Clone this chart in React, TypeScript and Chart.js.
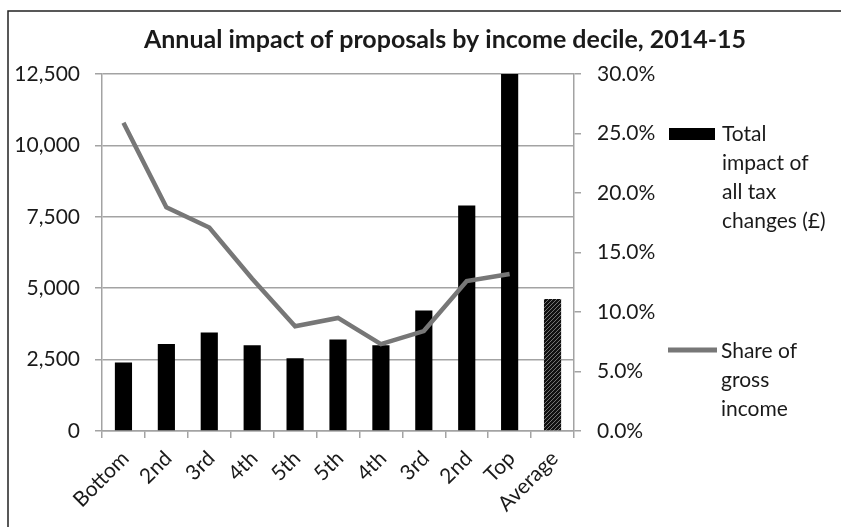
import React, { useEffect, useRef } from 'react';
import { Chart, registerables } from 'chart.js';

Chart.register(...registerables);

// ---------- data ----------
const categories = ['Bottom', '2nd', '3rd', '4th', '5th', '5th', '4th', '3rd', '2nd', 'Top', 'Average'];
const totalImpact = [2400, 3050, 3450, 3000, 2550, 3200, 3000, 4220, 7900, 12500, 4620];
const shareOfGrossIncome: (number | null)[] = [25.9, 18.8, 17.1, 12.8, 8.8, 9.5, 7.3, 8.4, 12.6, 13.2, null];
const leftTickValues = [0, 2500, 5000, 7500, 10000, 12500];
const rightTickValues = [0, 5, 10, 15, 20, 25, 30];
const titleText = 'Annual impact of proposals by income decile, 2014-15';
const barLegendLines = ['Total', 'impact of', 'all tax', 'changes (£)'];
const lineLegendLines = ['Share of', 'gross', 'income'];

const FONT = 'Lato, "Open Sans", sans-serif';
const TEXT = '#1a1a1a';
const GRID = '#a3a3a3';
const LINE = '#777777';

function makeHatch(): CanvasPattern | string {
  const c = document.createElement('canvas');
  c.width = 8;
  c.height = 8;
  const g = c.getContext('2d');
  if (!g) return '#222';
  g.fillStyle = '#111111';
  g.fillRect(0, 0, 8, 8);
  g.strokeStyle = 'rgba(220,220,220,0.55)';
  g.lineWidth = 0.9;
  g.beginPath();
  g.moveTo(0, 8); g.lineTo(8, 0);
  g.moveTo(-4, 8); g.lineTo(4, 0);
  g.moveTo(4, 8); g.lineTo(12, 0);
  g.stroke();
  const p = g.createPattern(c, 'repeat');
  return p || '#222';
}

const decorPlugin = {
  id: 'decor',
  afterDraw(chart: any) {
    const ctx: CanvasRenderingContext2D = chart.ctx;
    const a = chart.chartArea;
    ctx.save();
    // frame (left + top edges)
    ctx.strokeStyle = '#222';
    ctx.lineWidth = 1.5;
    ctx.beginPath();
    ctx.moveTo(8, chart.height);
    ctx.lineTo(8, 11);
    ctx.lineTo(chart.width, 11);
    ctx.stroke();

    // title
    ctx.fillStyle = TEXT;
    ctx.font = `bold 25px ${FONT}`;
    ctx.textAlign = 'center';
    ctx.textBaseline = 'alphabetic';
    ctx.fillText(titleText, 445, 48);

    // legend
    const lx = a.right + 95;
    ctx.font = `21px ${FONT}`;
    ctx.textAlign = 'left';
    ctx.fillStyle = '#000';
    ctx.fillRect(lx, 128, 46, 12);
    ctx.fillStyle = TEXT;
    barLegendLines.forEach((t, i) => ctx.fillText(t, lx + 53, 141 + i * 29));

    ctx.strokeStyle = LINE;
    ctx.lineWidth = 5;
    ctx.beginPath();
    ctx.moveTo(lx - 1, 350);
    ctx.lineTo(lx + 48, 350);
    ctx.stroke();
    lineLegendLines.forEach((t, i) => ctx.fillText(t, lx + 52, 358 + i * 29));
    ctx.restore();
  },
};

export default function App() {
  const ref = useRef<HTMLCanvasElement | null>(null);

  useEffect(() => {
    if (!ref.current) return;
    const hatch = makeHatch();
    const barColors = categories.map((c) => (c === 'Average' ? hatch : '#000000'));
    const tickFont = { family: FONT, size: 21 };

    const chart = new Chart(ref.current, {
      type: 'bar',
      data: {
        labels: categories,
        datasets: [
          {
            type: 'line',
            label: 'Share of gross income',
            data: shareOfGrossIncome,
            yAxisID: 'y1',
            borderColor: LINE,
            backgroundColor: LINE,
            borderWidth: 4.5,
            pointRadius: 0,
            tension: 0,
            spanGaps: false,
            order: 0,
          } as any,
          {
            type: 'bar',
            label: 'Total impact of all tax changes (£)',
            data: totalImpact,
            yAxisID: 'y',
            backgroundColor: barColors as any,
            borderWidth: 0,
            barPercentage: 0.4,
            categoryPercentage: 1,
            order: 1,
          } as any,
        ],
      },
      options: {
        responsive: false,
        animation: false,
        layout: { padding: { top: 74, left: 0, right: 0, bottom: 0 } },
        plugins: {
          legend: { display: false },
          title: { display: false },
          tooltip: { enabled: false },
        },
        scales: {
          x: {
            grid: {
              display: true,
              drawOnChartArea: false,
              drawTicks: true,
              tickLength: 7,
              color: GRID,
              lineWidth: 1.5,
              offset: true,
            },
            border: { display: true, color: GRID, width: 1.5 },
            ticks: {
              minRotation: 45,
              maxRotation: 45,
              autoSkip: false,
              font: tickFont,
              color: TEXT,
              padding: 8,
              labelOffset: 2,
            },
            afterFit: (s: any) => {
              s.height = 96;
            },
          },
          y: {
            position: 'left',
            min: 0,
            max: 12500,
            afterBuildTicks: (s: any) => {
              s.ticks = leftTickValues.map((v) => ({ value: v }));
            },
            ticks: {
              font: tickFont,
              color: TEXT,
              padding: 15,
              callback: (v: any) => Number(v).toLocaleString('en-US'),
            },
            grid: { color: GRID, lineWidth: 1.5, tickLength: 7, drawTicks: true },
            border: { display: true, color: GRID, width: 1.5 },
            afterFit: (s: any) => {
              s.width = 102;
            },
          },
          y1: {
            position: 'right',
            min: 0,
            max: 30,
            afterBuildTicks: (s: any) => {
              s.ticks = rightTickValues.map((v) => ({ value: v }));
            },
            ticks: {
              font: tickFont,
              color: TEXT,
              padding: 16,
              callback: (v: any) => Number(v).toFixed(1) + '%',
            },
            grid: { drawOnChartArea: false, color: GRID, lineWidth: 1.5, tickLength: 7, drawTicks: true },
            border: { display: true, color: GRID, width: 1.5 },
            afterFit: (s: any) => {
              s.width = 841 - 574;
            },
          },
        },
      } as any,
      plugins: [decorPlugin],
    });
    return () => chart.destroy();
  }, []);

  return (
    <div style={{ position: 'absolute', left: 0, top: 0, width: 841, height: 527, background: '#fff' }}>
      <canvas ref={ref} width={841} height={527} style={{ display: 'block', width: 841, height: 527 }} />
    </div>
  );
}
